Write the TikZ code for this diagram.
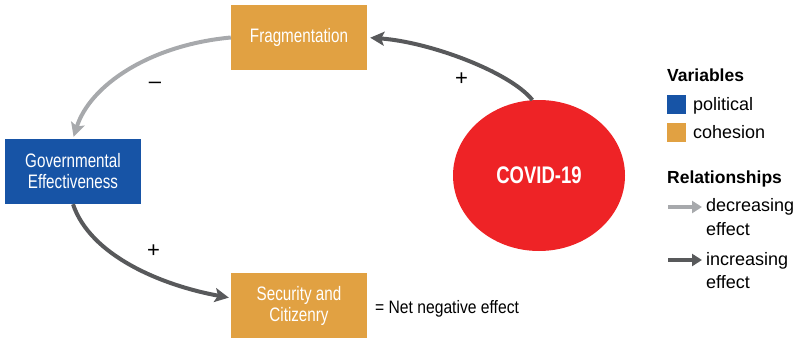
\documentclass[tikz,border=0pt]{standalone}
\usepackage{fontspec}
\setmainfont{Liberation Sans}
\newfontfamily\cond[FakeStretch=0.78]{Liberation Sans}
\newfontfamily\condb[FakeStretch=0.77]{Liberation Sans}
\newfontfamily\condn[FakeStretch=0.87]{Liberation Sans}
\usetikzlibrary{arrows.meta,shapes.geometric}
\definecolor{cohes}{HTML}{E1A142}
\definecolor{polit}{HTML}{1754A6}
\definecolor{covred}{HTML}{EE2326}
\definecolor{lgrey}{HTML}{A7A9AC}
\definecolor{dgrey}{HTML}{58595B}
\tikzset{
  varbox/.style={rectangle, minimum width=136pt, minimum height=65pt, inner sep=0pt,
    text=white, align=center, font=\cond\fontsize{19.5}{21}\selectfont},
  cohbox/.style={varbox, fill=cohes},
  polbox/.style={varbox, fill=polit},
  conn/.style={line width=4pt, -{Stealth[length=14pt,width=14pt,inset=3pt]}},
  decr/.style={conn, draw=lgrey},
  incr/.style={conn, draw=dgrey},
  legarrow/.style={line width=4.5pt, -{Triangle[length=10pt,width=12pt]}},
  sign/.style={font=\fontsize{22}{22}\selectfont, inner sep=0pt},
  legtext/.style={anchor=base west, inner sep=0pt, font=\fontsize{18}{18}\selectfont},
  leghead/.style={anchor=base west, inner sep=0pt, font=\bfseries\fontsize{17.5}{17.5}\selectfont},
  legsq/.style={anchor=north west, minimum size=19pt, inner sep=0pt}
}
\begin{document}
\begin{tikzpicture}[x=1pt,y=-1pt]
\useasboundingbox (0,0) rectangle (801,340);
\node[cohbox] (frag) at (299,37.5) {Fragmentation};
\node[polbox] (gov) at (73,171.5) {Governmental\\Effectiveness};
\node[cohbox] (sec) at (299,305.5) {Security and\\Citizenry};
\node[ellipse, fill=covred, minimum width=172pt, minimum height=151pt, inner sep=0pt,
  text=white, font=\condb\bfseries\fontsize{24}{24}\selectfont] (cov) at (539,175.5) {COVID-19};
\node[anchor=base west, inner sep=0pt, font=\condn\fontsize{18}{18}\selectfont] (net) at (375,313) {= Net negative effect};

\draw[incr, shorten >=3pt] (cov.95) .. controls (510,72) and (430,42) .. (frag.east);
\draw[decr, shorten >=2pt] (frag.west) .. controls (150,45) and (90,85) .. (gov.north);
\draw[incr, shorten >=2pt] (gov.south) .. controls (90,255) and (160,285) .. ([yshift=7.5pt]sec.west);

\node[sign] (m1) at (155,85) {\char"2013};
\node[sign] (p1) at (461.5,79) {+};
\node[sign] (p2) at (153.5,251.5) {+};

\node[leghead] (lv) at (667,81) {Variables};
\node[legsq, fill=polit] (sqp) at (667,95) {};
\node[legtext] (tp) at (693,110) {political};
\node[legsq, fill=cohes] (sqc) at (667,123) {};
\node[legtext] (tc) at (693,138) {cohesion};
\node[leghead] (lr) at (667,183) {Relationships};
\coordinate (la1) at (668,207);
\coordinate (la2) at (702,207);
\draw[legarrow, draw=lgrey] (la1) -- (la2);
\node[legtext] (td) at (706,211) {decreasing};
\node[legtext] (te1) at (706,235) {effect};
\coordinate (lb1) at (668,260);
\coordinate (lb2) at (702,260);
\draw[legarrow, draw=dgrey] (lb1) -- (lb2);
\node[legtext] (ti) at (706,265) {increasing};
\node[legtext] (te2) at (706,288) {effect};
\end{tikzpicture}
\end{document}
